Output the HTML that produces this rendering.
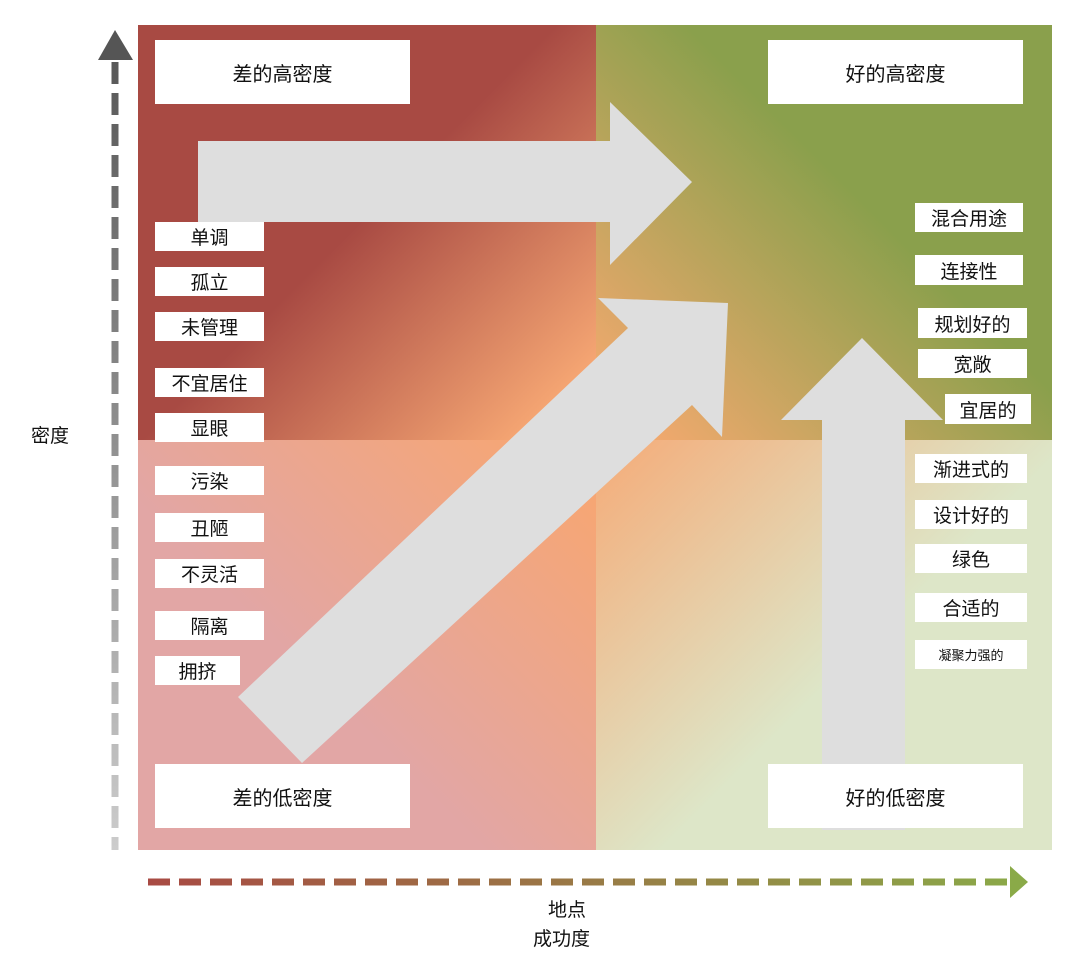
<!DOCTYPE html>
<html><head><meta charset="utf-8"><style>
body{margin:0;width:1080px;height:962px;background:#fff;position:relative;overflow:hidden;font-family:"Liberation Sans","Noto Sans CJK SC",sans-serif;}
.q{position:absolute;}
.b{position:absolute;background:#fff;color:#111;text-align:center;font-size:19px;display:flex;align-items:center;justify-content:center;}
.h{font-size:20px;}
.t{position:absolute;font-size:19px;color:#111;}
</style></head><body>
<div class="q" style="left:138px;top:25px;width:458px;height:415px;background:linear-gradient(135deg,#a84a43 48%,#f7a874 92%)"></div>
<div class="q" style="left:596px;top:25px;width:456px;height:415px;background:linear-gradient(225deg,#8aa04c 42%,#f4a96f 95%)"></div>
<div class="q" style="left:138px;top:440px;width:458px;height:410px;background:linear-gradient(45deg,#e2a6a5 40%,#f7a672 95%)"></div>
<div class="q" style="left:596px;top:440px;width:456px;height:410px;background:linear-gradient(315deg,#dde6c8 45%,#f5ab78 100%)"></div>
<svg width="1080" height="962" style="position:absolute;left:0;top:0">
<defs><linearGradient id="vg" gradientUnits="userSpaceOnUse" x1="0" y1="40" x2="0" y2="850"><stop offset="0" stop-color="#555"/><stop offset="1" stop-color="#ccc"/></linearGradient>
<linearGradient id="hg" gradientUnits="userSpaceOnUse" x1="148" y1="0" x2="1028" y2="0"><stop offset="0" stop-color="#a84a43"/><stop offset="1" stop-color="#8aaa48"/></linearGradient></defs>
<polygon fill="#dedede" points="198,141 610,141 610,102 692,182 610,265 610,222 198,222"/>
<polygon fill="#dedede" points="238,697 628,328 598,298 728,303 722,437 692,405 302,763"/>
<polygon fill="#dedede" points="822,830 822,420 781,420 862,338 943,420 905,420 905,830"/>
<rect x="111" y="58" width="8" height="792" fill="none"/>
<line x1="115" y1="62" x2="115" y2="850" stroke="url(#vg)" stroke-width="7" stroke-dasharray="22,9"/>
<polygon fill="#555" points="98,60 115,30 133,60"/>
<line x1="148" y1="882" x2="1012" y2="882" stroke="url(#hg)" stroke-width="7" stroke-dasharray="22,9"/>
<polygon fill="#8aaa48" points="1010,866 1028,882 1010,898"/>
</svg>
<div class="b h" style="left:155px;top:40px;width:255px;height:64px">差的高密度</div>
<div class="b h" style="left:768px;top:40px;width:255px;height:64px">好的高密度</div>
<div class="b h" style="left:155px;top:764px;width:255px;height:64px">差的低密度</div>
<div class="b h" style="left:768px;top:764px;width:255px;height:64px">好的低密度</div>
<div class="b" style="left:155px;top:222px;width:109px;height:29px">单调</div>
<div class="b" style="left:155px;top:267px;width:109px;height:29px">孤立</div>
<div class="b" style="left:155px;top:312px;width:109px;height:29px">未管理</div>
<div class="b" style="left:155px;top:368px;width:109px;height:29px">不宜居住</div>
<div class="b" style="left:155px;top:413px;width:109px;height:29px">显眼</div>
<div class="b" style="left:155px;top:466px;width:109px;height:29px">污染</div>
<div class="b" style="left:155px;top:513px;width:109px;height:29px">丑陋</div>
<div class="b" style="left:155px;top:559px;width:109px;height:29px">不灵活</div>
<div class="b" style="left:155px;top:611px;width:109px;height:29px">隔离</div>
<div class="b" style="left:155px;top:656px;width:85px;height:29px">拥挤</div>
<div class="b" style="left:915px;top:203px;width:108px;height:29px">混合用途</div>
<div class="b" style="left:915px;top:255px;width:108px;height:30px">连接性</div>
<div class="b" style="left:918px;top:308px;width:109px;height:30px">规划好的</div>
<div class="b" style="left:918px;top:349px;width:109px;height:29px">宽敞</div>
<div class="b" style="left:945px;top:394px;width:86px;height:30px">宜居的</div>
<div class="b" style="left:915px;top:454px;width:112px;height:29px">渐进式的</div>
<div class="b" style="left:915px;top:500px;width:112px;height:29px">设计好的</div>
<div class="b" style="left:915px;top:544px;width:112px;height:29px">绿色</div>
<div class="b" style="left:915px;top:593px;width:112px;height:29px">合适的</div>
<div class="b" style="left:915px;top:640px;width:112px;height:29px;font-size:13px">凝聚力强的</div>
<div class="t" style="left:31px;top:421px">密度</div>
<div class="t" style="left:548px;top:895px">地点</div>
<div class="t" style="left:533px;top:924px">成功度</div>
</body></html>
